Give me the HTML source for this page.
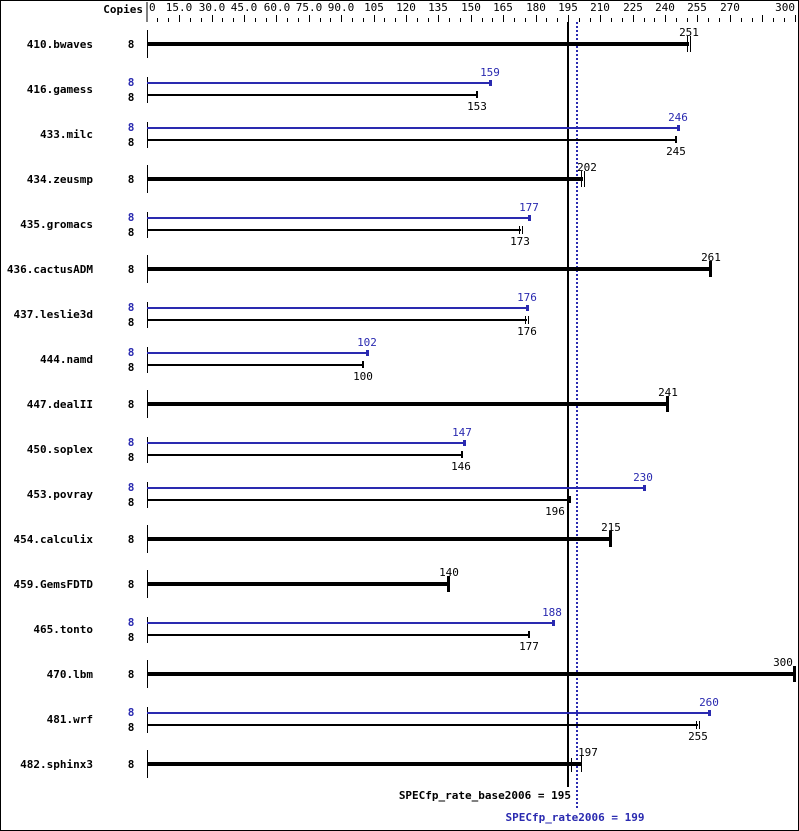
<!DOCTYPE html>
<html><head><meta charset="utf-8"><style>
html,body{margin:0;padding:0;background:#fff}
svg{display:block}
text{font-family:"DejaVu Sans Mono","Liberation Mono",monospace;font-size:11px}
.n{font-weight:bold;text-anchor:end}
.c{font-weight:bold;text-anchor:middle}
.v{text-anchor:middle}
.b{fill:#2a2ab0}
</style></head><body>
<svg width="799" height="831" viewBox="0 0 799 831" xmlns="http://www.w3.org/2000/svg">
<rect x="0.5" y="0.5" width="798" height="830" fill="#fff" stroke="#000"/>
<text x="143" y="13" class="n">Copies</text>
<line x1="147" y1="2" x2="147" y2="22" stroke="#000"/>
<g fill="#000">
<text x="149" y="11">0</text>
<text x="179" y="11" class="v">15.0</text>
<text x="212" y="11" class="v">30.0</text>
<text x="244" y="11" class="v">45.0</text>
<text x="277" y="11" class="v">60.0</text>
<text x="309" y="11" class="v">75.0</text>
<text x="341" y="11" class="v">90.0</text>
<text x="374" y="11" class="v">105</text>
<text x="406" y="11" class="v">120</text>
<text x="438" y="11" class="v">135</text>
<text x="471" y="11" class="v">150</text>
<text x="503" y="11" class="v">165</text>
<text x="536" y="11" class="v">180</text>
<text x="568" y="11" class="v">195</text>
<text x="600" y="11" class="v">210</text>
<text x="633" y="11" class="v">225</text>
<text x="665" y="11" class="v">240</text>
<text x="697" y="11" class="v">255</text>
<text x="730" y="11" class="v">270</text>
<text x="795" y="11" text-anchor="end">300</text>
</g>
<g stroke="#000" stroke-width="1">
<path d="M157.5 18V22M168.5 18V22M179.5 15V22M190.5 18V22M201.5 18V22M212.5 15V22M222.5 18V22M233.5 18V22M244.5 15V22M255.5 18V22M266.5 18V22M276.5 15V22M287.5 18V22M298.5 18V22M309.5 15V22M320.5 18V22M330.5 18V22M341.5 15V22M352.5 18V22M363.5 18V22M374.5 15V22M384.5 18V22M395.5 18V22M406.5 15V22M417.5 18V22M428.5 18V22M438.5 15V22M449.5 18V22M460.5 18V22M471.5 15V22M482.5 18V22M492.5 18V22M503.5 15V22M514.5 18V22M525.5 18V22M536.5 15V22M546.5 18V22M557.5 18V22M568.5 15V22M579.5 18V22M590.5 18V22M600.5 15V22M611.5 18V22M622.5 18V22M633.5 15V22M644.5 18V22M654.5 18V22M665.5 15V22M676.5 18V22M687.5 18V22M697.5 15V22M708.5 18V22M719.5 18V22M730.5 15V22M741.5 18V22M752.5 18V22M762.5 15V22M773.5 18V22M784.5 18V22M795.5 15V22"/>
</g>

<line x1="568" y1="22" x2="568" y2="787" stroke="#000" stroke-width="2"/>
<line x1="577" y1="22" x2="577" y2="808" stroke="#2a2ab0" stroke-width="2" stroke-dasharray="2,2"/>

<g id="rows">
<text x="93" y="48" class="n">410.bwaves</text><text x="131" y="48" class="c">8</text>
<line x1="147.5" y1="30" x2="147.5" y2="58" stroke="#000"/>
<rect x="147" y="42" width="542" height="4"/><path d="M687.5 36V52M690.5 36V52" stroke="#000"/>
<text x="689" y="36" class="v">251</text>

<text x="93" y="93" class="n">416.gamess</text><text x="131" y="86" class="c b">8</text><text x="131" y="101" class="c">8</text>
<line x1="147.5" y1="77" x2="147.5" y2="103" stroke="#000"/>
<rect x="147" y="82" width="343" height="2" class="b"/><rect x="489" y="80" width="3" height="6" class="b"/>
<rect x="147" y="94" width="330" height="2"/><rect x="476" y="91" width="2" height="7"/>
<text x="490" y="76" class="v b">159</text><text x="477" y="110" class="v">153</text>

<text x="93" y="138" class="n">433.milc</text><text x="131" y="131" class="c b">8</text><text x="131" y="146" class="c">8</text>
<line x1="147.5" y1="122" x2="147.5" y2="148" stroke="#000"/>
<rect x="147" y="127" width="531" height="2" class="b"/><rect x="677" y="125" width="3" height="6" class="b"/>
<rect x="147" y="139" width="529" height="2"/><rect x="675" y="136" width="2" height="7"/>
<text x="678" y="121" class="v b">246</text><text x="676" y="155" class="v">245</text>

<text x="93" y="183" class="n">434.zeusmp</text><text x="131" y="183" class="c">8</text>
<line x1="147.5" y1="165" x2="147.5" y2="193" stroke="#000"/>
<rect x="147" y="177" width="436" height="4"/><path d="M581.5 171V187M584.5 171V187" stroke="#000"/>
<text x="587" y="171" class="v">202</text>

<text x="93" y="228" class="n">435.gromacs</text><text x="131" y="221" class="c b">8</text><text x="131" y="236" class="c">8</text>
<line x1="147.5" y1="212" x2="147.5" y2="238" stroke="#000"/>
<rect x="147" y="217" width="382" height="2" class="b"/><rect x="528" y="215" width="3" height="6" class="b"/>
<rect x="147" y="229" width="374" height="2"/><path d="M519.5 226V234M522.5 226V234" stroke="#000"/>
<text x="529" y="211" class="v b">177</text><text x="520" y="245" class="v">173</text>

<text x="93" y="273" class="n">436.cactusADM</text><text x="131" y="273" class="c">8</text>
<line x1="147.5" y1="255" x2="147.5" y2="283" stroke="#000"/>
<rect x="147" y="267" width="564" height="4"/><rect x="709" y="261" width="3" height="16"/>
<text x="711" y="261" class="v">261</text>

<text x="93" y="318" class="n">437.leslie3d</text><text x="131" y="311" class="c b">8</text><text x="131" y="326" class="c">8</text>
<line x1="147.5" y1="302" x2="147.5" y2="328" stroke="#000"/>
<rect x="147" y="307" width="380" height="2" class="b"/><rect x="526" y="305" width="3" height="6" class="b"/>
<rect x="147" y="319" width="380" height="2"/><path d="M525.5 316V324M528.5 316V324" stroke="#000"/>
<text x="527" y="301" class="v b">176</text><text x="527" y="335" class="v">176</text>

<text x="93" y="363" class="n">444.namd</text><text x="131" y="356" class="c b">8</text><text x="131" y="371" class="c">8</text>
<line x1="147.5" y1="347" x2="147.5" y2="373" stroke="#000"/>
<rect x="147" y="352" width="220" height="2" class="b"/><rect x="366" y="350" width="3" height="6" class="b"/>
<rect x="147" y="364" width="216" height="2"/><rect x="362" y="361" width="2" height="7"/>
<text x="367" y="346" class="v b">102</text><text x="363" y="380" class="v">100</text>

<text x="93" y="408" class="n">447.dealII</text><text x="131" y="408" class="c">8</text>
<line x1="147.5" y1="390" x2="147.5" y2="418" stroke="#000"/>
<rect x="147" y="402" width="521" height="4"/><rect x="666" y="396" width="3" height="16"/>
<text x="668" y="396" class="v">241</text>

<text x="93" y="453" class="n">450.soplex</text><text x="131" y="446" class="c b">8</text><text x="131" y="461" class="c">8</text>
<line x1="147.5" y1="437" x2="147.5" y2="463" stroke="#000"/>
<rect x="147" y="442" width="317" height="2" class="b"/><rect x="463" y="440" width="3" height="6" class="b"/>
<rect x="147" y="454" width="315" height="2"/><rect x="461" y="451" width="2" height="7"/>
<text x="462" y="436" class="v b">147</text><text x="461" y="470" class="v">146</text>

<text x="93" y="498" class="n">453.povray</text><text x="131" y="491" class="c b">8</text><text x="131" y="506" class="c">8</text>
<line x1="147.5" y1="482" x2="147.5" y2="508" stroke="#000"/>
<rect x="147" y="487" width="497" height="2" class="b"/><rect x="643" y="485" width="3" height="6" class="b"/>
<rect x="147" y="499" width="423" height="2"/><rect x="569" y="496" width="2" height="7"/>
<text x="643" y="481" class="v b">230</text><text x="555" y="515" class="v">196</text>

<text x="93" y="543" class="n">454.calculix</text><text x="131" y="543" class="c">8</text>
<line x1="147.5" y1="525" x2="147.5" y2="553" stroke="#000"/>
<rect x="147" y="537" width="464" height="4"/><rect x="609" y="531" width="3" height="16"/>
<text x="611" y="531" class="v">215</text>

<text x="93" y="588" class="n">459.GemsFDTD</text><text x="131" y="588" class="c">8</text>
<line x1="147.5" y1="570" x2="147.5" y2="598" stroke="#000"/>
<rect x="147" y="582" width="302" height="4"/><rect x="447" y="576" width="3" height="16"/>
<text x="449" y="576" class="v">140</text>

<text x="93" y="633" class="n">465.tonto</text><text x="131" y="626" class="c b">8</text><text x="131" y="641" class="c">8</text>
<line x1="147.5" y1="617" x2="147.5" y2="643" stroke="#000"/>
<rect x="147" y="622" width="406" height="2" class="b"/><rect x="552" y="620" width="3" height="6" class="b"/>
<rect x="147" y="634" width="382" height="2"/><rect x="528" y="631" width="2" height="7"/>
<text x="552" y="616" class="v b">188</text><text x="529" y="650" class="v">177</text>

<text x="93" y="678" class="n">470.lbm</text><text x="131" y="678" class="c">8</text>
<line x1="147.5" y1="660" x2="147.5" y2="688" stroke="#000"/>
<rect x="147" y="672" width="648" height="4"/><rect x="793" y="666" width="3" height="16"/>
<text x="783" y="666" class="v">300</text>

<text x="93" y="723" class="n">481.wrf</text><text x="131" y="716" class="c b">8</text><text x="131" y="731" class="c">8</text>
<line x1="147.5" y1="707" x2="147.5" y2="733" stroke="#000"/>
<rect x="147" y="712" width="562" height="2" class="b"/><rect x="708" y="710" width="3" height="6" class="b"/>
<rect x="147" y="724" width="551" height="2"/><path d="M696.5 721V729M699.5 721V729" stroke="#000"/>
<text x="709" y="706" class="v b">260</text><text x="698" y="740" class="v">255</text>

<text x="93" y="768" class="n">482.sphinx3</text><text x="131" y="768" class="c">8</text>
<line x1="147.5" y1="750" x2="147.5" y2="778" stroke="#000"/>
<rect x="147" y="762" width="435" height="4"/><path d="M571.5 758V772M581.5 756V772" stroke="#000"/>
<text x="588" y="756" class="v">197</text>
</g>

<text x="571" y="799" class="n">SPECfp_rate_base2006 = 195</text>
<text x="575" y="821" class="c b">SPECfp_rate2006 = 199</text>
</svg>
</body></html>
